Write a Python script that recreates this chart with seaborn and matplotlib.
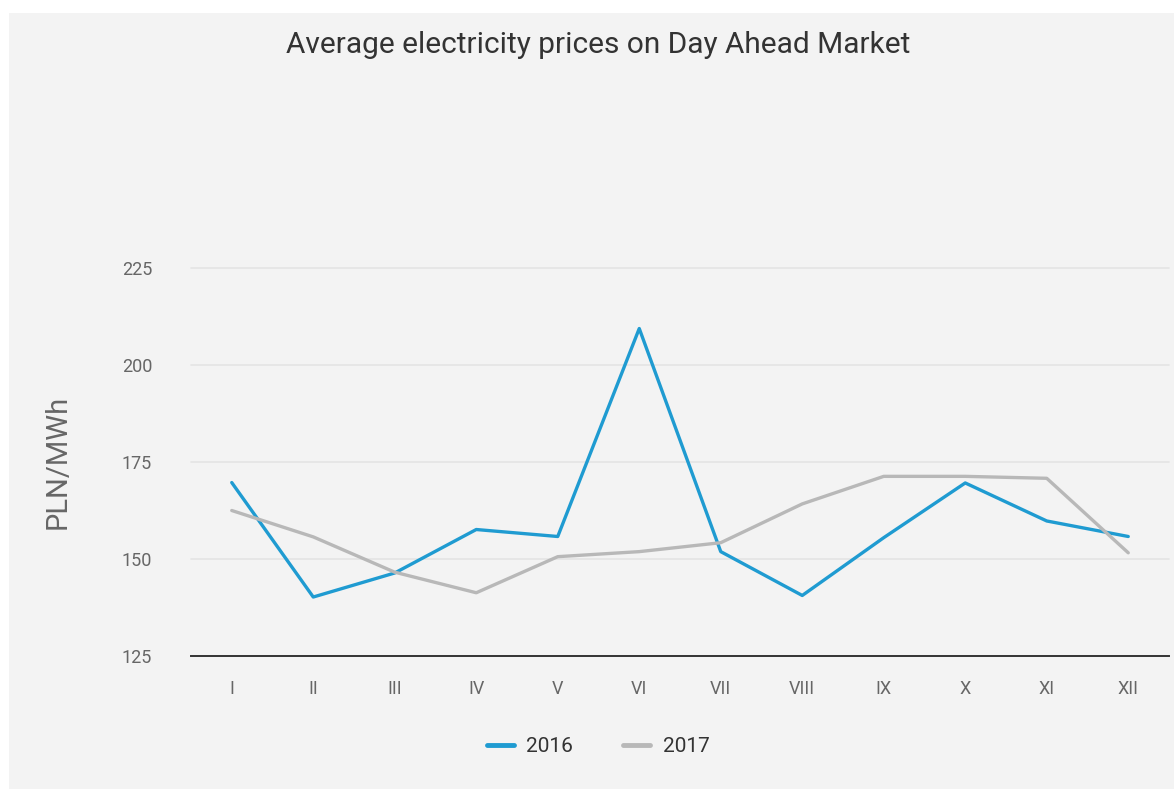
import pandas as pd
import matplotlib.pyplot as plt
import seaborn as sns
from matplotlib.patches import Rectangle


months = ['I', 'II', 'III', 'IV', 'V', 'VI', 'VII', 'VIII', 'IX', 'X', 'XI', 'XII']
prices_2016 = [169.7, 140.2, 146.4, 157.6, 155.8, 209.4, 151.9, 140.6, 155.5, 169.6, 159.8, 155.8]
prices_2017 = [162.5, 155.7, 146.6, 141.3, 150.6, 151.9, 154.2, 164.2, 171.3, 171.3, 170.8, 151.6]
y_ticks = [125, 150, 175, 200, 225]

df = pd.DataFrame({
    'month': list(range(len(months))) * 2,
    'price': prices_2016 + prices_2017,
    'year': ['2016'] * len(months) + ['2017'] * len(months),
})

bg = '#f3f3f3'
palette = {'2016': '#1f9bd1', '2017': '#b8b8b8'}

sns.set_theme(style='white')
plt.rcParams['font.family'] = ['Roboto', 'DejaVu Sans']

fig = plt.figure(figsize=(11.74, 7.89), dpi=100, facecolor='white')
fig.patches.append(Rectangle((9 / 1174, 0), 1, 1 - 13 / 789, transform=fig.transFigure,
                             facecolor=bg, edgecolor='none', zorder=-10))
ax = fig.add_axes([191 / 1174, 1 - 656 / 789, 978 / 1174, (656 - 268) / 789])
ax.set_facecolor(bg)

sns.lineplot(data=df, x='month', y='price', hue='year', palette=palette,
             linewidth=2.4, ax=ax, legend=False, zorder=3)

ax.set_xlim(-0.5, len(months) - 0.5)
ax.set_ylim(125, 225)
ax.set_yticks(y_ticks)
ax.set_yticklabels([str(v) for v in y_ticks], fontsize=13, color='#666666')
for v in y_ticks[1:]:
    ax.axhline(v, color='#e4e4e4', linewidth=1.2, zorder=1, clip_on=False)

ax.set_xticks([i - 0.5 for i in range(len(months) + 1)])
ax.set_xticklabels([])
ax.set_xticks(range(len(months)), minor=True)
ax.set_xticklabels(months, minor=True, fontsize=13, color='#666666')
ax.tick_params(axis='x', which='major', length=12, width=1.2, color='#ccd6eb', direction='out')
ax.tick_params(axis='x', which='minor', length=0, pad=17)
ax.tick_params(axis='y', length=0, pad=28)

for side in ['top', 'right', 'left']:
    ax.spines[side].set_visible(False)
ax.spines['bottom'].set_color('#333333')
ax.spines['bottom'].set_linewidth(1.4)
ax.spines['bottom'].set_zorder(4)

ax.set_xlabel('')
ax.set_ylabel('PLN/MWh', fontsize=21, color='#666666', labelpad=36)

fig.text(598 / 1174, 1 - 45 / 789, 'Average electricity prices on Day Ahead Market',
         ha='center', va='center', fontsize=21.5, color='#333333')

handles = [plt.Line2D([], [], color=palette[y], linewidth=3.5) for y in ['2016', '2017']]
fig.legend(handles, ['2016', '2017'], loc='center', bbox_to_anchor=(598 / 1174, 1 - 747 / 789),
           ncol=2, frameon=False, fontsize=15, handlelength=1.3, handletextpad=0.6,
           columnspacing=2.4, labelcolor='#333333')

fig.savefig('out.png', dpi=100, facecolor='white')
